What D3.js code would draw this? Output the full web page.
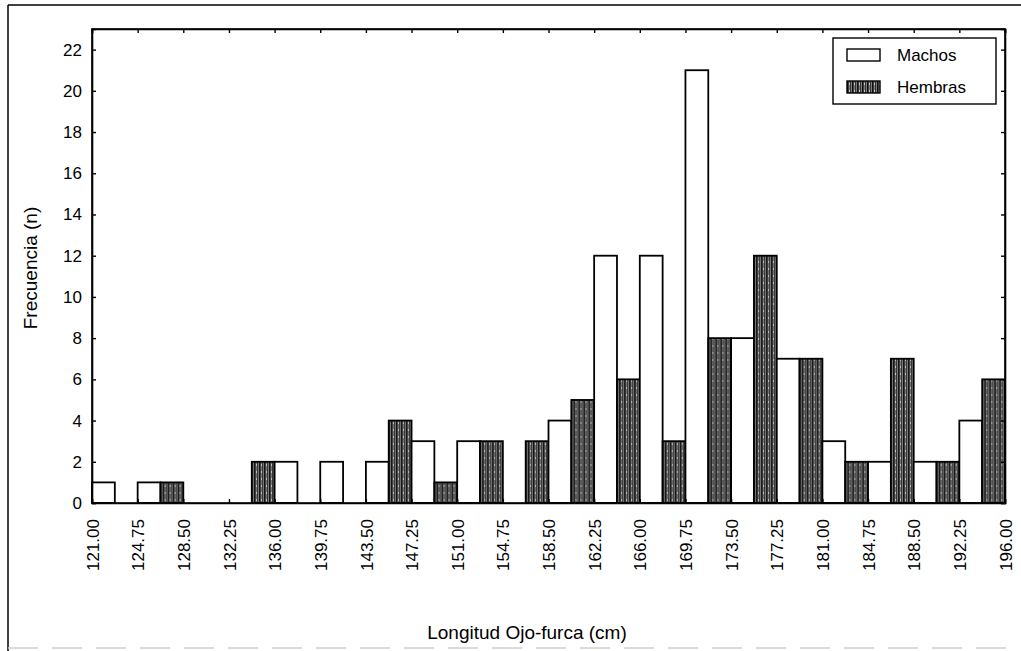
<!DOCTYPE html>
<html>
<head>
<meta charset="utf-8">
<script src="https://cdn.jsdelivr.net/npm/d3@7/dist/d3.min.js"></script>
<style>
  html, body { margin: 0; padding: 0; background: #fff; }
  svg { display: block; font-family: "Liberation Sans", Arial, sans-serif; }
</style>
</head>
<body>
<svg id="chart" width="1021" height="651"></svg>
<script>
// Class limits (cm) for fork length, 3.75 cm wide
const binEdges = [121.00, 124.75, 128.50, 132.25, 136.00, 139.75, 143.50, 147.25,
                  151.00, 154.75, 158.50, 162.25, 166.00, 169.75, 173.50, 177.25,
                  181.00, 184.75, 188.50, 192.25, 196.00];
// Frequencies per class
const machos  = [1, 1, 0, 0, 2, 2, 2, 3, 3, 0, 4, 12, 12, 21, 8, 7, 3, 2, 2, 4];
const hembras = [0, 1, 0, 2, 0, 0, 4, 1, 3, 3, 5, 6, 3, 8, 12, 7, 2, 7, 2, 6];
const seriesNames = ["Machos", "Hembras"];
const yTicks = [0, 2, 4, 6, 8, 10, 12, 14, 16, 18, 20, 22];

const svg = d3.select("#chart");
const plotL = 92, plotR = 1005, plotT = 29, plotB = 503;

// Vertical-streak fill used for the females
const defs = svg.append("defs");
const pat = defs.append("pattern")
  .attr("id", "streaks").attr("patternUnits", "userSpaceOnUse")
  .attr("width", 5).attr("height", 7);
pat.append("rect").attr("width", 5).attr("height", 7).attr("fill", "#7c7c7c");
pat.append("rect").attr("x", 0).attr("width", 1.6).attr("height", 7).attr("fill", "#111");
pat.append("rect").attr("x", 3).attr("width", 1).attr("height", 7).attr("fill", "#333");
pat.append("rect").attr("x", 2).attr("y", 2).attr("width", 1).attr("height", 2).attr("fill", "#c8c8c8");

const fills = { Machos: "#ffffff", Hembras: "url(#streaks)" };

// Scales
const xLin = d3.scaleLinear().domain([binEdges[0], binEdges[binEdges.length - 1]]).range([plotL, plotR]);
const xBand = d3.scaleBand().domain(d3.range(machos.length)).range([plotL, plotR]).padding(0);
const xInner = d3.scaleBand().domain(seriesNames).range([0, xBand.bandwidth()]).padding(0);
const y = d3.scaleLinear().domain([0, 23]).range([plotB, plotT]);

// Outer page frame
svg.append("line").attr("x1", 8).attr("x2", 8).attr("y1", 5).attr("y2", 651)
  .attr("stroke", "#000").attr("stroke-width", 1.5);
svg.append("line").attr("x1", 8).attr("x2", 1021).attr("y1", 5).attr("y2", 5)
  .attr("stroke", "#000").attr("stroke-width", 1.5);
svg.append("line").attr("x1", 8).attr("x2", 1010).attr("y1", 648).attr("y2", 648)
  .attr("stroke", "#cfcfcf").attr("stroke-width", 1.5).attr("stroke-dasharray", "30,14");

// Bars
const rows = machos.map((m, i) => ({ i, Machos: m, Hembras: hembras[i] }));
const groups = svg.append("g").selectAll("g").data(rows).join("g")
  .attr("transform", d => `translate(${xBand(d.i)},0)`);
groups.selectAll("rect")
  .data(d => seriesNames.map(k => ({ key: k, value: d[k] })))
  .join("rect")
  .attr("x", d => xInner(d.key))
  .attr("y", d => y(d.value))
  .attr("width", xInner.bandwidth())
  .attr("height", d => y(0) - y(d.value))
  .attr("fill", d => fills[d.key])
  .attr("stroke", "#000").attr("stroke-width", 1.8);

// Plot frame
svg.append("rect").attr("x", plotL).attr("y", plotT)
  .attr("width", plotR - plotL).attr("height", plotB - plotT)
  .attr("fill", "none").attr("stroke", "#000").attr("stroke-width", 1.6);

// Axes (ticks pointing inward, mirrored on top and right)
const fmt = d3.format(".2f");
const gx = svg.append("g").attr("transform", `translate(0,${plotB})`)
  .call(d3.axisBottom(xLin).tickValues(binEdges).tickFormat(fmt).tickSize(-4).tickPadding(0));
gx.selectAll("text")
  .attr("transform", "rotate(-90)")
  .attr("text-anchor", "end")
  .attr("x", -16).attr("y", 0).attr("dy", "0.36em")
  .style("font-size", "17px").attr("fill", "#000");
svg.append("g").attr("transform", `translate(0,${plotT})`)
  .call(d3.axisTop(xLin).tickValues(binEdges).tickFormat("").tickSize(-4));

const gy = svg.append("g").attr("transform", `translate(${plotL},0)`)
  .call(d3.axisLeft(y).tickValues(yTicks).tickSize(-4).tickPadding(10));
gy.selectAll("text").style("font-size", "17px").attr("fill", "#000");
svg.append("g").attr("transform", `translate(${plotR},0)`)
  .call(d3.axisRight(y).tickValues(yTicks).tickFormat("").tickSize(-4));

svg.selectAll(".domain").attr("stroke", "#000").attr("stroke-width", 1.6);
svg.selectAll(".tick line").attr("stroke", "#000").attr("stroke-width", 1.4);

// Axis titles
svg.append("text").attr("transform", "translate(37,268) rotate(-90)")
  .attr("text-anchor", "middle").style("font-size", "19px").text("Frecuencia (n)");
svg.append("text").attr("x", 527).attr("y", 639)
  .attr("text-anchor", "middle").style("font-size", "19px").text("Longitud Ojo-furca (cm)");

// Legend
const lg = svg.append("g");
lg.append("rect").attr("x", 833).attr("y", 38).attr("width", 163).attr("height", 66)
  .attr("fill", "#fff").attr("stroke", "#000").attr("stroke-width", 1.4);
const items = lg.selectAll("g.item").data(seriesNames).join("g")
  .attr("class", "item")
  .attr("transform", (d, i) => `translate(847,${49 + i * 32})`);
items.append("rect").attr("width", 33).attr("height", 12)
  .attr("fill", d => fills[d]).attr("stroke", "#000").attr("stroke-width", 1.4);
items.append("text").attr("x", 50).attr("y", 6).attr("dy", "0.36em")
  .style("font-size", "17px").text(d => d);
</script>
</body>
</html>
